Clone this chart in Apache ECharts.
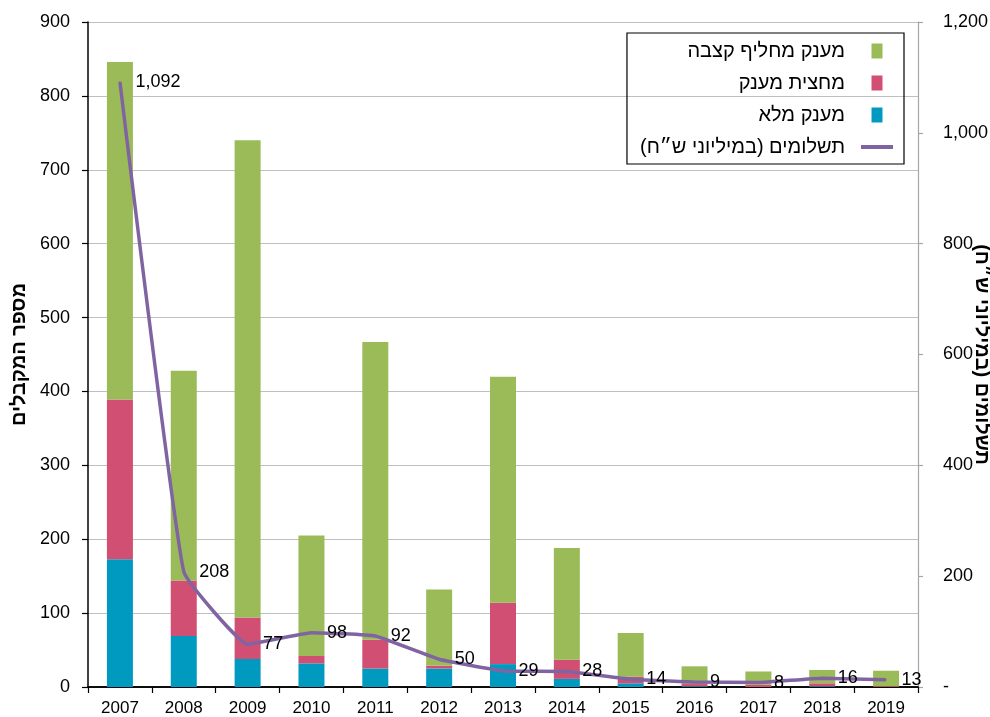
<!DOCTYPE html>
<html>
<head>
<meta charset="utf-8">
<script src="https://cdn.jsdelivr.net/npm/echarts@6/dist/echarts.min.js"></script>
<style>
html,body{margin:0;padding:0;background:#fff;}
#c{width:990px;height:717px;}
</style>
</head>
<body>
<div id="c"></div>
<script>
var years = ['2007','2008','2009','2010','2011','2012','2013','2014','2015','2016','2017','2018','2019'];
var fullGrant = [173, 69, 38, 32, 25, 25, 31, 11, 5, 1, 0, 1, 0];
var halfGrant = [216, 75, 56, 10, 39, 4, 83, 26, 9, 3, 3, 4, 1];
var altGrant = [457, 284, 646, 163, 403, 103, 306, 151, 59, 24, 18, 18, 21];
var payments = [1092, 208, 77, 98, 92, 50, 29, 28, 14, 9, 8, 16, 13];

var nameGreen = 'מענק מחליף קצבה';
var nameRed = 'מחצית מענק';
var nameBlue = 'מענק מלא';
var nameLine = 'תשלומים (במיליוני ש״ח)';
var leftTitle = 'מספר המקבלים';
var rightTitle = 'תשלומים (במיליוני ש״ח)';

var FONT = '"Liberation Sans", "DejaVu Sans", sans-serif';
var chart = echarts.init(document.getElementById('c'), null, {renderer: 'canvas'});

var barW = 26;
var option = {
  backgroundColor: '#fff',
  textStyle: {fontFamily: FONT},
  animation: false,
  grid: {left: 88, right: 72, top: 22, bottom: 30, containLabel: false, outerBoundsMode: 'none'},
  legend: {
    orient: 'vertical',
    right: 86,
    top: 33,
    align: 'right',
    itemWidth: 32,
    itemHeight: 15,
    itemGap: 12,
    padding: [8, 11, 7, 13],
    borderColor: '#000',
    borderWidth: 1.2,
    symbolKeepAspect: true,
    textStyle: {fontFamily: FONT, fontSize: 20, color: '#000', padding: [0, 11, 0, 0]},
    data: [
      {name: nameGreen, icon: 'path://M0,0h11v15h-11z'},
      {name: nameRed, icon: 'path://M0,0h11v15h-11z'},
      {name: nameBlue, icon: 'path://M0,0h11v15h-11z'},
      {name: nameLine, icon: 'path://M0,0h32v4h-32z'}
    ]
  },
  xAxis: [{
    type: 'category',
    data: years,
    axisLine: {lineStyle: {color: '#000', width: 1.5}},
    axisTick: {show: true, alignWithLabel: false, length: 6, lineStyle: {color: '#000', width: 1.2}},
    axisLabel: {fontSize: 17, color: '#000', margin: 13, fontFamily: FONT}
  }, {
    type: 'category',
    data: years,
    position: 'top',
    axisLine: {show: true, lineStyle: {color: '#000', width: 1.5}},
    axisTick: {show: false},
    axisLabel: {show: false}
  }],
  yAxis: [{
    type: 'value',
    min: 0, max: 900, interval: 100,
    position: 'left',
    name: leftTitle,
    nameLocation: 'middle',
    nameRotate: 90,
    nameGap: 59,
    nameMoveOverlap: false,
    nameTextStyle: {fontSize: 20, fontWeight: 'bold', color: '#000', fontFamily: FONT},
    axisLine: {show: true, lineStyle: {color: '#000', width: 1.5}},
    axisTick: {show: true, length: 6, lineStyle: {color: '#000', width: 1.2}},
    axisLabel: {fontSize: 18, color: '#000', margin: 18, fontFamily: FONT},
    splitLine: {show: true, lineStyle: {color: '#BFBFBF', width: 1.2}}
  }, {
    type: 'value',
    min: 0, max: 1200, interval: 200,
    position: 'right',
    name: rightTitle,
    nameLocation: 'middle',
    nameRotate: -90,
    nameGap: 54,
    nameMoveOverlap: false,
    nameTextStyle: {fontSize: 20, fontWeight: 'bold', color: '#000', fontFamily: FONT},
    axisLine: {show: true, lineStyle: {color: '#A6A6A6', width: 1.2}},
    axisTick: {show: true, length: 5, lineStyle: {color: '#A6A6A6', width: 1.2}},
    axisLabel: {
      fontSize: 18, color: '#000', margin: 25, fontFamily: FONT,
      formatter: function (v) { return v === 0 ? '-' : v.toLocaleString('en-US'); }
    },
    splitLine: {show: false}
  }],
  series: [{
    name: nameBlue, type: 'bar', stack: 'g', barWidth: barW,
    itemStyle: {color: '#009AC0'},
    data: fullGrant
  }, {
    name: nameRed, type: 'bar', stack: 'g', barWidth: barW,
    itemStyle: {color: '#D14F73'},
    data: halfGrant
  }, {
    name: nameGreen, type: 'bar', stack: 'g', barWidth: barW,
    itemStyle: {color: '#9BBB59'},
    data: altGrant
  }, {
    name: nameLine, type: 'line', yAxisIndex: 1,
    smooth: 0.1,
    showSymbol: true, symbol: 'circle', symbolSize: 1,
    lineStyle: {color: '#8064A2', width: 3.5},
    itemStyle: {color: '#8064A2'},
    label: {
      show: true, position: 'right', distance: 15,
      fontSize: 18, color: '#000', fontFamily: FONT,
      formatter: function (p) { return p.value.toLocaleString('en-US'); }
    },
    labelLayout: {hideOverlap: false},
    data: payments,
    z: 5
  }]
};
chart.setOption(option);
</script>
</body>
</html>
